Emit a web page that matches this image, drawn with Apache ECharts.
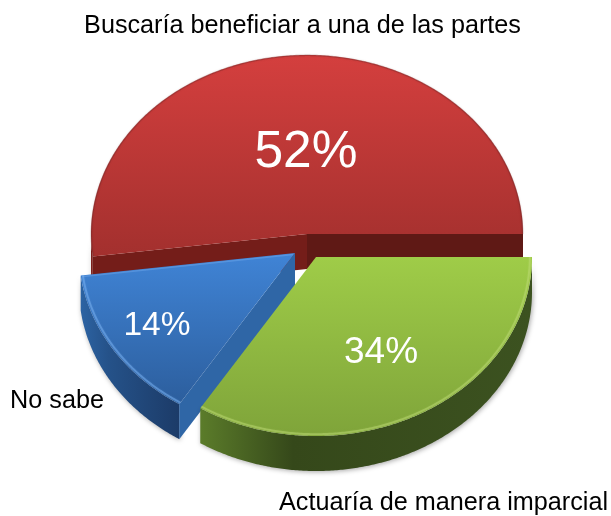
<!DOCTYPE html>
<html>
<head>
<meta charset="utf-8">
<style>html,body{margin:0;padding:0;background:#fff}#c{width:611px;height:516px}</style>
<script src="https://cdn.jsdelivr.net/npm/echarts@6/dist/echarts.min.js"></script>
</head>
<body>
<div id="c"></div>
<script>
// Data
var categories = ['Buscaría beneficiar a una de las partes', 'No sabe', 'Actuaría de manera imparcial'];
var values = [52, 14, 34];

// Look of each slice (same order as the data)
var looks = [
  {off:[0,0],   top:['#d43f3e','#a3302e'], wall:['#7c201c','#7c201c','#7c201c'], faceStart:'#741d19', faceEnd:'#5f1915', bevel:'rgba(110,40,40,0.35)', bw:1.5, k:0.998, lx:306, ly:153, fs:51.5, nx:302.5, ny:26, nfs:25.2},
  {off:[-12,19],top:['#4084d6','#2c5e9d'], wall:['#2c63a3','#255289','#1c3b68'], faceStart:'#2f66a6', faceEnd:'#2f66a6', bevel:'rgba(120,175,240,0.5)', bw:2, k:0.99, edge:'rgba(120,175,240,0.4)', lx:157, ly:326, fs:33.5, nx:57, ny:401, nfs:25.2},
  {off:[9,23],  top:['#9fcc48','#7fa43a'], wall:['#5b7c2a','#35481a','#3c5220'], faceStart:'#5b7c2a', faceEnd:'#5b7c2a', bevel:'rgba(190,220,120,0.45)', bw:2, k:0.99, lx:381, ly:353, fs:37, nx:443.5, ny:503, nfs:25.2}
];
var CX = 307, CY = 234, RX = 216, RY = 179, DEPTH = 35;
var FONT = '"Liberation Sans", Arial, sans-serif';
var total = values.reduce(function(a,b){return a+b;},0);

function pt(c, deg, dy, k){
  var r = deg*Math.PI/180; k = k||1;
  return [c[0]+RX*k*Math.cos(r), c[1]+RY*k*Math.sin(r)+(dy||0)];
}
function arc(c, a, b, dy, k){
  var out=[], n=Math.max(2,Math.ceil((b-a)*2));
  for(var i=0;i<=n;i++){ out.push(pt(c, a+(b-a)*i/n, dy, k)); }
  return out;
}
function grad(cols, horizontal){
  var stops = cols.map(function(col,i){
    var o = cols.length===3 ? [0,0.28,1][i] : i;
    return {offset:o,color:col};
  });
  return {type:'linear',x:0,y:0,x2:horizontal?1:0,y2:horizontal?0:1,colorStops:stops};
}
function face(c, deg, color){
  var e = pt(c,deg);
  return {type:'polygon', shape:{points:[c,e,[e[0],e[1]+DEPTH],[c[0],c[1]+DEPTH]]}, style:{fill:color}};
}

function renderItem(params, api){
  var i = params.dataIndex, L = looks[i], v = api.value(0);
  var before = 0; for(var j=0;j<i;j++){ before += values[j]; }
  var a2 = 360 - before/total*360, a1 = a2 - v/total*360;
  var c = [CX+L.off[0], CY+L.off[1]];
  var kids = [];
  // visible part of the outer wall: front half only
  var w1 = Math.max(a1,0), w2 = Math.min(a2,180);
  if(w2 > w1){
    var upper = arc(c,w1,w2,0), lower = arc(c,w1,w2,DEPTH).reverse();
    kids.push({type:'polygon', shape:{points:upper.concat(lower)},
      style:{fill:grad(L.wall, true), shadowBlur:5, shadowColor:'rgba(0,0,0,0.35)', shadowOffsetX:1, shadowOffsetY:1}});
  }
  // straight cut faces that look towards the viewer
  if(Math.sin((a1-90)*Math.PI/180) > 0){ kids.push(face(c,a1,L.faceStart)); }
  if(Math.sin((a2+90)*Math.PI/180) > 0){ kids.push(face(c,a2,L.faceEnd)); }
  // top surface
  kids.push({type:'polygon', shape:{points:[c].concat(arc(c,a1,a2,0))}, style:{fill:grad(L.top)}});
  // bevel along the rim
  kids.push({type:'polyline', shape:{points:arc(c,a1,a2,0,L.k)},
    style:{fill:'none', stroke:L.bevel, lineWidth:L.bw, shadowBlur:2, shadowColor:L.bevel}, silent:true});
  if(L.edge){
    kids.push({type:'polyline', shape:{points:[[c[0]-2,c[1]+1.5],[pt(c,a2)[0]+2,pt(c,a2)[1]+1]]},
      style:{fill:'none', stroke:L.edge, lineWidth:1.5}, silent:true});
  }
  // percent label
  kids.push({type:'text', style:{text:Math.round(v)+'%', x:L.lx, y:L.ly, fill:'#fff', fontSize:L.fs, fontFamily:FONT, align:'center', verticalAlign:'middle'}});
  // category label
  kids.push({type:'text', style:{text:categories[i], x:L.nx, y:L.ny, fill:'#000', fontSize:L.nfs, fontFamily:FONT, align:'center', verticalAlign:'middle'}});
  return {type:'group', children:kids};
}

var chart = echarts.init(document.getElementById('c'));
chart.setOption({
  backgroundColor:'#fff',
  animation:false,
  series:[{
    type:'custom',
    coordinateSystem:'none',
    renderItem:renderItem,
    data:values.map(function(v,i){return {name:categories[i], value:[v]};})
  }]
});
</script>
</body>
</html>
